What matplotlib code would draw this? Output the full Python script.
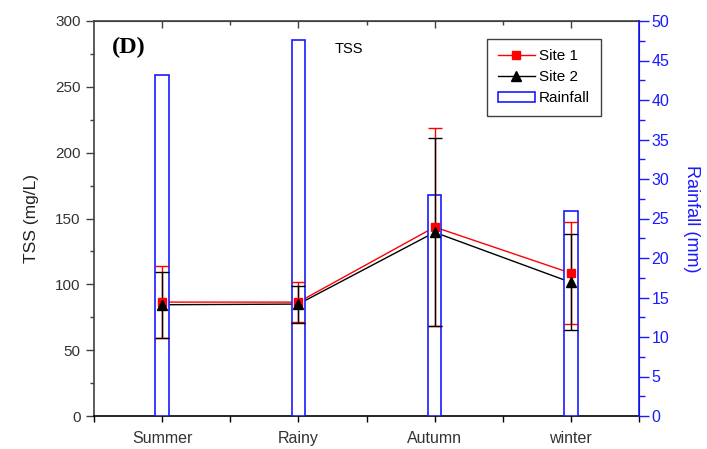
import numpy as np
import matplotlib.pyplot as plt
from matplotlib.lines import Line2D
from matplotlib.patches import Patch
from matplotlib.ticker import MultipleLocator, FixedLocator

plt.rcParams['font.family'] = ['Liberation Sans', 'DejaVu Sans']

# data
seasons = ['Summer', 'Rainy', 'Autumn', 'winter']
site1 = [86.5, 86.5, 143.5, 108.5]
site1_err = [27.5, 15, 75, 39]
site2 = [84.5, 85, 139.5, 101.5]
site2_err = [25, 14, 71.5, 36.5]
rainfall = [43.2, 47.6, 28, 26]

x = np.arange(1, len(seasons) + 1)
gray = '#404040'
blue = '#1a1aff'

fig = plt.figure(figsize=(7.07, 4.49), dpi=100)
ax = fig.add_axes([94/707, 1-416/449, 545/707, 395/449])

# connecting lines (left scale), drawn lowest
ax.plot(x, site1, color='red', lw=1)
ax.plot(x, site2, color='black', lw=1)
ax.set_xlim(0.5, 4.5)
ax.set_ylim(0, 300)

# rainfall bars (right scale), white filled so they hide the lines
axr = ax.twinx()
axr.bar(x, rainfall, width=0.1, facecolor='white', edgecolor=blue, lw=1.2)
axr.set_ylim(0, 50)

# markers + error bars (left scale again) on top
axm = ax.twinx()
axm.set_ylim(0, 300)
axm.errorbar(x, site1, yerr=site1_err, color='red', ls='none', marker='s',
             ms=6, capsize=5, elinewidth=1, capthick=1)
axm.errorbar(x, site2, yerr=site2_err, color='black', ls='none', marker='^',
             ms=7, capsize=5, elinewidth=1, capthick=1)
axm.axis('off')

# left axis
ax.set_ylabel('TSS (mg/L)', fontsize=12.5, color='#222222', labelpad=12)
ax.yaxis.set_major_locator(MultipleLocator(50))
ax.yaxis.set_minor_locator(MultipleLocator(25))
ax.tick_params(axis='y', which='major', direction='out', length=6, width=1,
               color=gray, labelsize=11, labelcolor='#333333')
ax.tick_params(axis='y', which='minor', direction='out', length=3, width=1, color=gray)

# bottom axis
ax.set_xticks(x)
ax.set_xticklabels(seasons)
ax.xaxis.set_minor_locator(FixedLocator([0.5, 1.5, 2.5, 3.5, 4.5]))
ax.tick_params(axis='x', which='both', direction='out', length=4, width=1,
               color='black', labelsize=11.5, labelcolor='#333333', pad=7)

# top ticks pointing inward
top = ax.secondary_xaxis('top')
top.set_xticks(x)
top.xaxis.set_minor_locator(FixedLocator([1.5, 2.5, 3.5]))
top.tick_params(axis='x', which='major', direction='in', length=5, width=1,
                color=gray, labeltop=False)
top.tick_params(axis='x', which='minor', direction='in', length=3, width=1, color=gray)
top.spines['top'].set_color(gray)

for s in ['left', 'bottom', 'top']:
    ax.spines[s].set_color(gray)
    ax.spines[s].set_linewidth(1.2)
ax.spines['bottom'].set_color('black')

# right axis
axr.set_ylabel('Rainfall (mm)', fontsize=13, color=blue, rotation=270, labelpad=22)
axr.yaxis.set_major_locator(MultipleLocator(5))
axr.yaxis.set_minor_locator(MultipleLocator(2.5))
axr.tick_params(axis='y', which='major', direction='out', length=7, width=1,
                color=blue, labelsize=11.5, labelcolor=blue, pad=2)
axr.tick_params(axis='y', which='minor', direction='out', length=4, width=1, color=blue)
axr.spines['right'].set_color(blue)
axr.spines['right'].set_linewidth(1.2)
for s in ['left', 'top', 'bottom']:
    axr.spines[s].set_visible(False)

# annotations
axm.text(0.033, 0.932, '(D)', transform=ax.transAxes, fontsize=17.5,
         fontweight='bold', family=['Liberation Serif', 'DejaVu Serif'], va='center')
axm.text(0.442, 0.93, 'TSS', transform=ax.transAxes, fontsize=10.5, va='center')

handles = [
    Line2D([], [], color='red', marker='s', ms=6, lw=1),
    Line2D([], [], color='black', marker='^', ms=7, lw=1),
    Patch(facecolor='white', edgecolor=blue, lw=1.2),
]
leg = axm.legend(handles, ['Site 1', 'Site 2', 'Rainfall'], loc='upper right',
                 bbox_to_anchor=(0.93, 0.955), bbox_transform=ax.transAxes,
                 fontsize=11, fancybox=False, framealpha=1, edgecolor=gray,
                 handlelength=2.4, handletextpad=0.3, borderpad=0.7,
                 labelspacing=0.45, borderaxespad=0)
leg.get_frame().set_linewidth(1)

fig.savefig('out.png', dpi=100)
